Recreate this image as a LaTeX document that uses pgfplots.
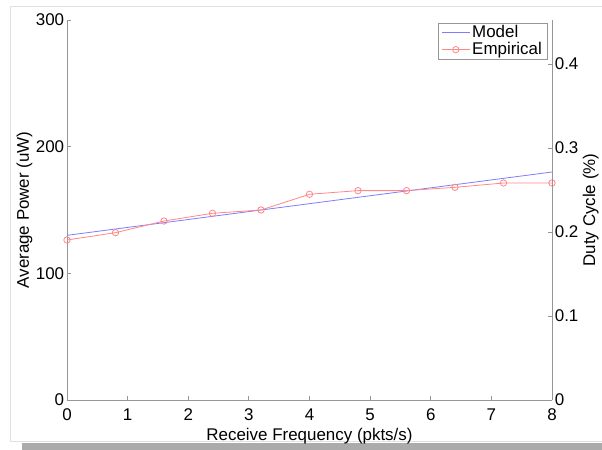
\documentclass[border=0pt]{standalone}
\usepackage{pgfplots}
\pgfplotsset{compat=1.18}
\usepackage{fontspec}
\setmainfont{Liberation Sans}
\definecolor{modelblue}{RGB}{125,125,255}
\definecolor{empred}{RGB}{255,135,135}
\definecolor{axgray}{RGB}{150,150,150}
\begin{document}
\begin{tikzpicture}
\fontsize{17}{19}\selectfont
% figure frame and shadow
\draw[color=black!12, line width=0.8bp] (-57bp,-41bp) rectangle (545bp,394bp);
\fill[color=black!33] (-45bp,-43bp) rectangle (540bp,-52bp);
\begin{axis}[
  scale only axis, width=485bp, height=380bp,
  xmin=0, xmax=8, ymin=0, ymax=300,
  axis x line*=bottom, axis y line*=left,
  axis line style={-, axgray, line width=0.8bp},
  tick style={axgray, line width=0.8bp}, tick align=inside,
  major tick length=4bp,
  xtick={0,1,...,8}, ytick={0,100,200,300},
  /pgf/number format/assume math mode=true,
  ticklabel style={font=\fontsize{17}{19}\selectfont},
  label style={font=\fontsize{17}{19}\selectfont},
  xticklabel style={yshift=-3bp},
  yticklabel style={xshift=3bp},
  xlabel={Receive Frequency (pkts/s)},
  ylabel={Average Power (uW)},
  xlabel style={yshift=4bp},
  ylabel style={yshift=-8bp},
  legend style={at={(0.99,0.993)}, anchor=north east, draw=axgray, line width=0.6bp,
    font=\fontsize{17}{18}\selectfont, inner xsep=3bp, inner ysep=0.5bp, row sep=-2bp},
  legend cell align=left,
  legend image code/.code={\draw[mark repeat=2,mark phase=2,#1] plot coordinates {(0bp,0bp) (14bp,0bp) (28bp,0bp)};},
]
\addplot[color=modelblue, line width=0.8bp] coordinates {(0,130) (8,180)};
\addlegendentry{Model}
\addplot[color=empred, line width=0.8bp, mark=o, mark size=3.2bp, mark options={line width=0.8bp}] coordinates {
(0,126.3) (0.8,132.1) (1.6,141.3) (2.4,147.4) (3.2,150.0) (4.0,162.4)
(4.8,165.3) (5.6,165.3) (6.4,167.9) (7.2,171.3) (8.0,171.3)};
\addlegendentry{Empirical}
\end{axis}
\begin{axis}[
  scale only axis, width=485bp, height=380bp,
  xmin=0, xmax=8, ymin=0, ymax=0.4524,
  axis x line=none, axis y line*=right,
  axis line style={-, axgray, line width=0.8bp},
  tick style={axgray, line width=0.8bp}, tick align=inside,
  major tick length=4bp,
  ytick={0,0.1,0.2,0.3,0.4},
  yticklabel style={/pgf/number format/fixed, font=\fontsize{17}{19}\selectfont, xshift=-3bp},
  /pgf/number format/assume math mode=true,
  ylabel={Duty Cycle (\%)},
  ylabel style={yshift=7bp},
  label style={font=\fontsize{17}{19}\selectfont},
]
\end{axis}
\pgfresetboundingbox
\path[use as bounding box] (-67bp,-50bp) rectangle (535bp,400bp);
\end{tikzpicture}
\end{document}
